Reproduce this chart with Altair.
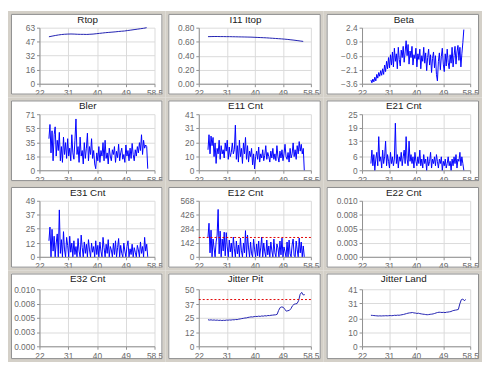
import altair as alt
import pandas as pd

FONT = "Liberation Sans"
GRAY = "#d4d0c8"
NOISY = "#0000ff"
SMOOTH = "#2020b0"
RED = "#e00000"

X_DOMAIN = [22, 58.5]
X_TICKS = [22, 31.125, 40.25, 49.375, 58.5]

# sampling grids (x positions of the samples)
NOISY_X0, NOISY_STEP = 25.0, 0.33
SMOOTH1_X0, SMOOTH1_STEP = 25.0, 1.0
SMOOTH2_X0, SMOOTH2_STEP = 25.0, 0.5

rtop = [52.8, 53.5, 54.2, 54.8, 55.3, 55.6, 55.8, 55.9, 55.8, 55.6, 55.5, 55.5, 55.4, 55.6, 55.8, 56.2,
        56.6, 57.0, 57.4, 57.7, 58.0, 58.3, 58.7, 59.0, 59.3, 59.8, 60.3, 60.8, 61.3, 61.8, 62.3, 63.0]
i11_itop = [0.672, 0.673, 0.674, 0.674, 0.673, 0.673, 0.672, 0.672, 0.671, 0.670, 0.669, 0.668, 0.667, 0.666,
            0.665, 0.663, 0.661, 0.659, 0.657, 0.655, 0.652, 0.649, 0.646, 0.643, 0.640, 0.636, 0.632, 0.627,
            0.622, 0.616, 0.610, 0.604]
beta = [-3.2, -3.5, -3.1, -3.4, -2.9, -3.3, -2.6, -3.0, -2.4, -2.8, -2.2, -2.7,
        -2.0, -2.6, -1.6, -2.3, -1.2, -2.0, -0.8, -1.9, -0.5, -1.6, -0.2, -1.8,
        0.2, -1.2, -0.4, -2.0, 0.3, -1.0, -1.7, 0.0, -0.8, 0.4, -1.3, -0.2,
        1.0, -0.6, 0.6, -1.5, -0.1, -0.8, 0.4, -1.6, -0.5, -0.9, 0.2, -1.8,
        -0.4, -1.0, 0.1, -2.0, -0.6, -1.2, 0.3, -1.4, -0.3, -2.2, -0.8, 0.1,
        -1.6, -0.5, -2.4, -0.9, -0.2, -1.9, -0.6, -2.6, -3.3, -1.2, -0.3, -2.1,
        -0.7, 0.2, -1.5, -2.3, -0.4, -1.7, 0.1, -1.3, -2.0, -0.5, -1.4, 0.3,
        -1.8, -0.6, 0.4, -1.5, -0.2, 0.5, -1.1, 0.3, -1.8, -0.4, 0.8, 2.2]
bler = [40, 58, 22, 50, 12, 45, 55, 18, 38, 25, 48, 12,
        30, 10, 42, 20, 35, 15, 40, 18, 28, 12, 45, 22,
        14, 38, 65, 20, 30, 10, 42, 18, 25, 8, 35, 15,
        28, 47, 12, 30, 20, 40, 15, 25, 8, 2, 22, 12,
        30, 10, 25, 18, 35, 12, 38, 15, 22, 8, 28, 18,
        12, 26, 20, 30, 10, 24, 16, 33, 12, 22, 28, 14,
        20, 10, 32, 18, 25, 12, 28, 15, 34, 20, 12, 26,
        18, 30, 22, 35, 25, 45, 20, 38, 28, 32, 30, 2]
e11 = [15, 26, 12, 25, 18, 24, 10, 20, 5, 16, 12, 22,
       8, 18, 12, 15, 9, 20, 14, 22, 8, 17, 10, 13,
       20, 12, 15, 33, 8, 18, 6, 22, 10, 16, 5, 20,
       12, 24, 8, 18, 6, 14, 10, 16, 4, 12, 1, 10,
       14, 8, 17, 6, 12, 9, 15, 7, 11, 18, 8, 13,
       10, 6, 14, 9, 16, 8, 12, 7, 18, 10, 6, 14,
       9, 15, 7, 12, 19, 10, 8, 13, 6, 16, 9, 12,
       20, 10, 15, 8, 18, 12, 21, 14, 19, 12, 16, 0]
e21 = [3, 9, 2, 7, 0, 5, 8, 2, 15, 4, 6, 1,
       9, 3, 6, 13, 2, 7, 4, 1, 8, 3, 6, 2,
       5, 21, 3, 7, 1, 6, 4, 8, 2, 6, 9, 3,
       15, 5, 2, 13, 4, 7, 3, 6, 1, 8, 4, 2,
       6, 3, 9, 2, 5, 1, 7, 3, 5, 0, 6, 2,
       4, 8, 1, 5, 3, 6, 2, 7, 4, 1, 5, 3,
       6, 0, 4, 2, 5, 1, 3, 6, 2, 4, 0, 5,
       2, 6, 3, 7, 1, 5, 4, 8, 2, 6, 3, 0]
e31 = [14, 26, 0, 24, 5, 18, 0, 12, 20, 0, 41, 3,
       15, 0, 22, 6, 0, 17, 10, 0, 18, 4, 12, 0,
       14, 2, 9, 0, 16, 5, 0, 19, 8, 0, 13, 3,
       11, 0, 15, 6, 0, 12, 4, 9, 0, 14, 2, 10,
       0, 13, 5, 0, 17, 8, 0, 11, 3, 15, 0, 9,
       6, 0, 12, 2, 14, 0, 8, 16, 0, 10, 3, 0,
       12, 5, 0, 9, 14, 0, 7, 2, 11, 0, 8, 4,
       0, 10, 6, 0, 13, 3, 9, 0, 17, 5, 11, 0]
e12 = [200, 340, 40, 270, 0, 180, 90, 0, 150, 220, 480, 30,
       260, 0, 180, 60, 250, 10, 245, 100, 0, 170, 50, 140,
       0, 200, 80, 0, 160, 30, 120, 0, 190, 60, 0, 140,
       40, 265, 0, 220, 90, 0, 150, 30, 0, 180, 70, 0,
       130, 10, 160, 0, 90, 200, 0, 140, 50, 0, 170, 20,
       110, 0, 150, 60, 0, 180, 40, 0, 130, 90, 0, 160,
       20, 190, 0, 100, 50, 0, 150, 0, 170, 30, 0, 120,
       180, 10, 0, 160, 70, 0, 190, 40, 150, 0, 110, 0]
e22 = []
e32 = []
jitter_pit = [23.3, 23.0, 23.2, 22.9, 23.1, 22.8, 23.0, 22.7, 22.9, 22.6,
              22.8, 22.7, 23.0, 22.9, 23.1, 23.0, 23.3, 23.2, 23.5, 23.4,
              23.8, 24.0, 24.3, 24.5, 24.8, 24.9, 25.3, 25.5, 25.8, 25.7,
              26.0, 26.2, 26.1, 26.4, 26.2, 26.6, 26.4, 26.8, 26.6, 27.0,
              26.9, 27.2, 27.3, 27.5, 27.6, 28.0, 31.5, 34.0, 34.5, 34.2,
              32.5, 30.8, 31.2, 31.5, 33.0, 35.5, 36.8, 37.2, 37.5, 40.0,
              45.5, 47.3, 45.0, 45.3]
jitter_land = [22.3, 22.2, 22.1, 22.0, 21.9, 21.8, 21.9, 21.8, 21.9, 21.9,
               22.0, 21.9, 22.0, 22.1, 22.0, 22.1, 22.3, 22.2, 22.4, 22.3,
               22.5, 22.7, 22.9, 23.2, 23.5, 23.8, 24.0, 24.1, 24.3, 24.0,
               23.9, 23.6, 23.8, 23.5, 23.3, 23.1, 23.0, 22.8, 22.7, 22.8,
               23.0, 23.1, 23.3, 23.6, 24.0, 24.3, 24.5, 24.4, 24.3, 24.4,
               24.2, 24.5, 24.6, 24.8, 25.0, 25.5, 25.8, 26.0, 26.2, 26.5,
               30.5, 33.5, 34.0, 32.8, 33.6]

titles = ["Rtop", "I11 Itop", "Beta", "Bler", "E11 Cnt", "E21 Cnt",
          "E31 Cnt", "E12 Cnt", "E22 Cnt", "E32 Cnt", "Jitter Pit", "Jitter Land"]
y_ticks = [
    [0, 16, 32, 47, 63],
    [0, 0.2, 0.4, 0.6, 0.8],
    [-3.6, -2.1, -0.6, 0.9, 2.4],
    [0, 18, 35, 53, 71],
    [0, 10, 20, 31, 41],
    [0, 6, 13, 19, 25],
    [0, 12, 25, 37, 49],
    [0, 142, 284, 426, 568],
    [0, 0.0025, 0.005, 0.0075, 0.01],
    [0, 0.0025, 0.005, 0.0075, 0.01],
    [0, 12, 25, 37, 50],
    [0, 10, 20, 31, 41],
]
y_formats = [".0f", ".2f", ".1f", ".0f", ".0f", ".0f", ".0f", ".0f", ".3f", ".3f", ".0f", ".0f"]
thresholds = [None, None, None, None, None, None, None, 196, None, None, 41, None]

series = [rtop, i11_itop, beta, bler, e11, e21, e31, e12, e22, e32, jitter_pit, jitter_land]
grids = [(SMOOTH1_X0, SMOOTH1_STEP), (SMOOTH1_X0, SMOOTH1_STEP)] + [(NOISY_X0, NOISY_STEP)] * 8 + \
        [(SMOOTH2_X0, SMOOTH2_STEP), (SMOOTH2_X0, SMOOTH2_STEP)]
colors = [SMOOTH, SMOOTH] + [NOISY] * 8 + [SMOOTH, SMOOTH]

# layout (pixels): per column (left gutter, plot width, right gutter); per row (top, plot height, bottom)
COLS = [(29, 117, 8), (31, 114, 10), (36, 110, 9)]
ROWS = [(14, 57, 11), (14, 57, 11), (14, 57, 11), (16, 58, 13)]

one = alt.Data(values=[{"k": 0}])


def panel(idx):
    col, row = idx % 3, idx // 3
    L, W, R = COLS[col]
    T, H, B = ROWS[row]
    x0, step = grids[idx]
    ys = series[idx]
    df = pd.DataFrame({"x": [x0 + step * i for i in range(len(ys))], "y": [float(v) for v in ys]})
    if len(ys) == 0:
        df = pd.DataFrame({"x": pd.Series([], dtype=float), "y": pd.Series([], dtype=float)})
    ticks = y_ticks[idx]

    x_scale = alt.Scale(domain=X_DOMAIN, nice=False, zero=False)
    y_scale = alt.Scale(domain=[ticks[0], ticks[-1]], nice=False, zero=False)
    x_axis = alt.Axis(values=X_TICKS, title=None, labelFlush=False, labelOverlap=False,
                      labelExpr="datum.value == 58.5 ? '58.5' : format(floor(datum.value), 'd')")
    y_axis = alt.Axis(values=ticks, title=None, labelFlush=False, labelOverlap=False,
                      labelExpr=f"format(datum.value + 1e-9, '{y_formats[idx]}')")

    frame = alt.Chart(one).mark_rect(fill="transparent", stroke=GRAY, strokeWidth=3).encode(
        x=alt.value(-L - 1.5), x2=alt.value(W + R + 1.5),
        y=alt.value(-T - 1.5), y2=alt.value(H + B + 1.5))
    border = alt.Chart(one).mark_rect(fill="transparent", stroke="#8a8a8a", strokeWidth=1).encode(
        x=alt.value(-L + 0.5), x2=alt.value(W + R - 0.5),
        y=alt.value(-T + 0.5), y2=alt.value(H + B - 0.5))
    title = alt.Chart(one).mark_text(font=FONT, fontSize=10, color="#1a1a1a",
                                     align="center", baseline="middle").encode(
        x=alt.value(-L + (L + W + R) / 2 + 1), y=alt.value(-T + 6), text=alt.value(titles[idx]))

    line = alt.Chart(df).mark_line(color=colors[idx], strokeWidth=1).encode(
        x=alt.X("x:Q", scale=x_scale, axis=x_axis),
        y=alt.Y("y:Q", scale=y_scale, axis=y_axis),
    )
    layers = [line]
    if thresholds[idx] is not None:
        rule = alt.Chart(one).mark_rule(stroke=RED, strokeDash=[2, 2], strokeWidth=1).encode(
            x=alt.X(datum=X_DOMAIN[0], type="quantitative", scale=x_scale, axis=x_axis),
            x2=alt.X2(datum=X_DOMAIN[1]),
            y=alt.Y(datum=thresholds[idx], type="quantitative", scale=y_scale, axis=y_axis),
            color=alt.value(RED))
        layers.append(rule)
    return alt.layer(frame, border, *layers, title).properties(width=W, height=H)


chart = alt.concat(*[panel(i) for i in range(12)], columns=3, spacing=0).properties(
    padding=0, background="white"
).configure_view(strokeWidth=0).configure_axis(
    labelFont=FONT, labelFontSize=8.5, labelColor="#6a6a6a", gridColor="#dadada",
    domainColor="#909090", tickColor="#909090", tickSize=3, labelPadding=2
)

chart.save("out.html", embed_options={"renderer": "svg", "actions": False})
